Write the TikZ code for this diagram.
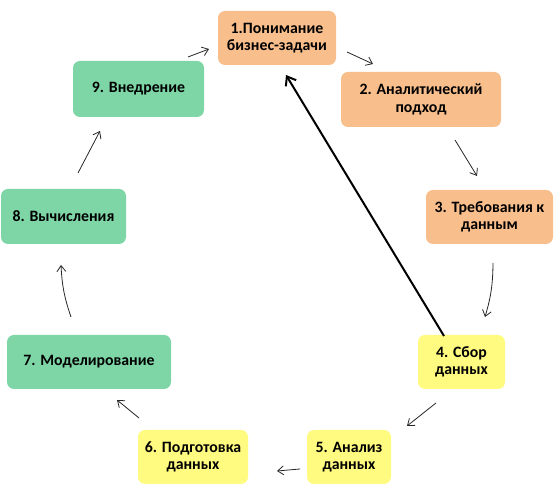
\documentclass[tikz,border=0pt]{standalone}
\usepackage{fontspec}
\setmainfont{Carlito}
\usetikzlibrary{arrows.meta}
\definecolor{orangebox}{RGB}{248,190,140}
\definecolor{yellowbox}{RGB}{255,250,128}
\definecolor{greenbox}{RGB}{126,214,166}
\tikzset{
  box/.style={rectangle, rounded corners=7pt, inner sep=2pt, align=center,
    font=\fontsize{15.8}{17.5}\selectfont\bfseries, text=black},
  obox/.style={box, fill=orangebox},
  ybox/.style={box, fill=yellowbox},
  gbox/.style={box, fill=greenbox},
  thinarrow/.style={draw=black!85, line width=0.8pt, -{Straight Barb[length=6pt,width=9pt]}},
  thickarrow/.style={draw=black, line width=2pt, -{Straight Barb[length=8pt,width=12pt]}}
}
\begin{document}
\begin{tikzpicture}[x=1pt,y=1pt]
\useasboundingbox (0,0) rectangle (558,492);
\node[obox, minimum width=118pt, minimum height=54pt] (n1) at (277,454) {1.Понимание\\бизнес-задачи};
\node[obox, minimum width=160pt, minimum height=55pt] (n2) at (421,392.5) {2. Аналитический\\подход};
\node[obox, minimum width=127pt, minimum height=54pt] (n3) at (489.5,275) {3. Требования к\\данным};
\node[ybox, minimum width=87pt, minimum height=54pt] (n4) at (461.5,130) {4. Сбор\\данных};
\node[ybox, minimum width=84pt, minimum height=54pt] (n5) at (349,35) {5. Анализ\\данных};
\node[ybox, minimum width=110pt, minimum height=54pt] (n6) at (193,35) {6. Подготовка\\данных};
\node[gbox, minimum width=164pt, minimum height=54pt] (n7) at (89,130) {7. Моделирование};
\node[gbox, minimum width=125pt, minimum height=55pt] (n8) at (63.5,275.5) {8. Вычисления};
\node[gbox, minimum width=131pt, minimum height=56pt] (n9) at (138.5,403) {9. Внедрение};

\coordinate (a12s) at (347,440);
\coordinate (a12e) at (373,428);
\coordinate (a23s) at (455,352);
\coordinate (a23e) at (477,316);
\coordinate (a34s) at (493,229);
\coordinate (a34e) at (485,175);
\coordinate (a45s) at (436,89);
\coordinate (a45e) at (407,66);
\coordinate (a56s) at (300,23);
\coordinate (a56e) at (277,21);
\coordinate (a67s) at (139,74);
\coordinate (a67e) at (117,92);
\coordinate (a78s) at (71,175);
\coordinate (a78e) at (61,227);
\coordinate (a89s) at (78,319);
\coordinate (a89e) at (100,361);
\coordinate (a91s) at (188,435);
\coordinate (a91e) at (209,443);
\coordinate (a41s) at (444,156);
\coordinate (a41e) at (286,417);

\draw[thinarrow] (a12s) -- (a12e);
\draw[thinarrow] (a23s) -- (a23e);
\draw[thinarrow] (a34s) to[bend left=8] (a34e);
\draw[thinarrow] (a45s) -- (a45e);
\draw[thinarrow] (a56s) -- (a56e);
\draw[thinarrow] (a67s) -- (a67e);
\draw[thinarrow] (a78s) to[bend left=8] (a78e);
\draw[thinarrow] (a89s) -- (a89e);
\draw[thinarrow] (a91s) -- (a91e);
\draw[thickarrow] (a41s) -- (a41e);
\end{tikzpicture}
\end{document}
